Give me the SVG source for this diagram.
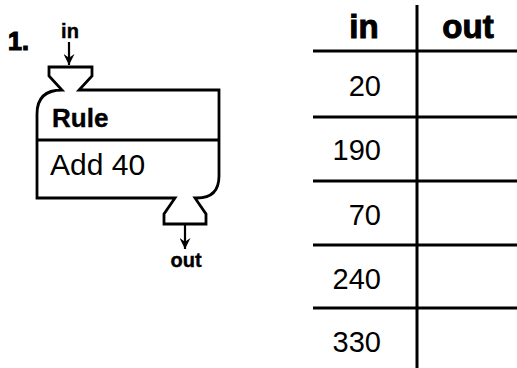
<svg xmlns="http://www.w3.org/2000/svg" width="517" height="368" viewBox="0 0 517 368">
<style>
.ln{stroke:#000;stroke-width:2.8;fill:none;stroke-linejoin:miter}
.tl{stroke:#000;stroke-width:3;fill:none}
.b{font-family:"Liberation Sans",Arial,sans-serif;font-weight:bold;fill:#000}
.r{font-family:"Liberation Sans",Arial,sans-serif;fill:#000}
.hd{font-family:"Liberation Sans",Arial,sans-serif;font-weight:900;fill:#000;stroke:#000;stroke-width:1}
.ar{stroke:#000;stroke-width:2.2;fill:none}
</style>
<defs>
<marker id="ah2" viewBox="0 0 12 12" refX="12" refY="6" markerWidth="11" markerHeight="11" orient="auto" markerUnits="userSpaceOnUse">
<path d="M0,0 L12,6 L0,12 L4,6 Z" fill="#000"/>
</marker>
</defs>
<rect width="517" height="368" fill="#fff"/>
<g id="number">
<text class="b" x="8" y="50" font-size="25" stroke="#000" stroke-width="1.2">1.</text>
</g>
<g id="rule-machine">
<path class="ln" d="M49,67 H92 V76 L79,90 H219 V176 Q219,198 197,198 L195,198 L206,214 V224 H164 V214 L175,198 H37 V114 Q37,90 62,90 L49,76 Z"/>
<line class="ln" x1="37" y1="140" x2="219" y2="140"/>
<text class="b" x="52" y="127" font-size="26" stroke="#000" stroke-width="0.4">Rule</text>
<text class="r" x="50" y="175" font-size="30">Add 40</text>
<text class="b" x="70" y="38" font-size="20" text-anchor="middle" stroke="#000" stroke-width="0.4">in</text>
<text class="b" x="186" y="267" font-size="20" text-anchor="middle" stroke="#000" stroke-width="0.4">out</text>
</g>
<g id="connectors">
<line class="ar" x1="69" y1="42" x2="69" y2="65" marker-end="url(#ah2)"/>
<line class="ar" x1="185" y1="224" x2="185" y2="249" marker-end="url(#ah2)"/>
</g>
<g id="table">
<line class="tl" x1="417" y1="5" x2="417" y2="368"/>
<line class="tl" x1="313" y1="51" x2="517" y2="51"/>
<line class="tl" x1="313" y1="117" x2="517" y2="117"/>
<line class="tl" x1="313" y1="181" x2="517" y2="181"/>
<line class="tl" x1="313" y1="245" x2="517" y2="245"/>
<line class="tl" x1="313" y1="308" x2="517" y2="308"/>
<text class="hd" x="364" y="38" font-size="33" text-anchor="middle">in</text>
<text class="hd" x="468" y="38" font-size="33" text-anchor="middle">out</text>
<text class="r" x="381" y="96" font-size="29" text-anchor="end">20</text>
<text class="r" x="381" y="160" font-size="29" text-anchor="end">190</text>
<text class="r" x="381" y="225" font-size="29" text-anchor="end">70</text>
<text class="r" x="381" y="289" font-size="29" text-anchor="end">240</text>
<text class="r" x="381" y="352" font-size="29" text-anchor="end">330</text>
</g>
</svg>
